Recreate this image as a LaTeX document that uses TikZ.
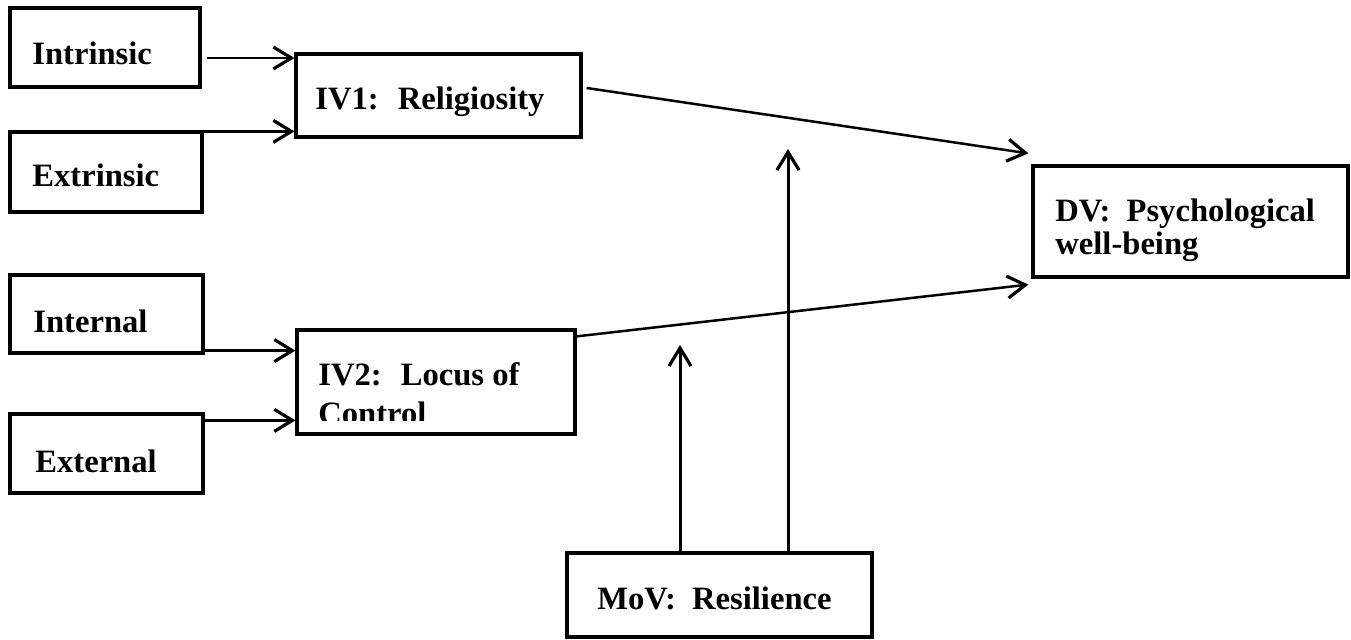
\documentclass[tikz,border=0pt]{standalone}
\usepackage{fontspec}
\setmainfont{Liberation Serif}
\usetikzlibrary{arrows.meta,calc}
\begin{document}
\begin{tikzpicture}[x=0.5pt,y=-0.5pt,
  box/.style={draw=black,line width=1.6pt,rectangle,inner sep=0pt,fill=none},
  txt/.style={inner sep=0pt,anchor=base west,font=\bfseries\fontsize{16.3}{19}\selectfont},
  arr/.style={line width=1.25pt,-{Straight Barb[length=9pt,width=11pt,line width=1.6pt]}}]
\useasboundingbox (0,0) rectangle (1351,640);
\fill[white] (0,0) rectangle (1351,640);
% boxes
\node[box,minimum width=95pt,minimum height=39.5pt] (intr) at (105,47.5) {};
\node[box,minimum width=96pt,minimum height=40pt] (extr) at (106,172) {};
\node[box,minimum width=96.5pt,minimum height=39pt] (intl) at (106.5,314) {};
\node[box,minimum width=96.5pt,minimum height=39.5pt] (extl) at (106.5,453.5) {};
\node[box,minimum width=142.5pt,minimum height=41.5pt] (iv1) at (438.5,95.5) {};
\node[box,minimum width=139pt,minimum height=52pt] (iv2) at (436,382) {};
\node[box,minimum width=157.5pt,minimum height=55.5pt] (dv) at (1190.5,221.5) {};
\node[box,minimum width=152.5pt,minimum height=42pt] (mov) at (719.5,595) {};
% texts
\node[txt] (tintr) at (32,65) {Intrinsic};
\node[txt] (textr) at (32,187) {Extrinsic};
\node[txt] (tintl) at (33,333) {Internal};
\node[txt] (textl) at (35,473) {External};
\node[txt] (tiv1) at (315,110) {IV1:~ Religiosity};
\node[txt] (tiv2a) at (318,386) {IV2:~ Locus of};
\begin{scope}
\clip (300,350) rectangle (570,421);
\node[txt] (tiv2b) at (318,425) {Control};
\end{scope}
\node[txt] (tdva) at (1055,222) {DV:~ Psychological};
\node[txt] (tdvb) at (1055,255) {well-being};
\node[txt] (tmov) at (597,610) {MoV:~ Resilience};
% connectors
\coordinate (s1) at ([xshift=2.5pt,yshift=-5.25pt]intr.east);
\draw[arr] (s1) -- (s1 -| iv1.west);
\coordinate (s2) at ([yshift=-0.5pt]extr.north east);
\draw[arr] (s2) -- (s2 -| iv1.west);
\coordinate (s3) at ([yshift=2pt]intl.south east);
\draw[arr,line width=1.5pt] (s3) -- (s3 -| iv2.west);
\coordinate (s4) at ([yshift=-4pt]extl.north east);
\draw[arr,line width=1.5pt] (s4) -- (s4 -| iv2.west);
\draw[arr] ([xshift=2pt,yshift=3.75pt]iv1.east) -- ([xshift=-1.5pt,yshift=5.5pt]dv.north west);
\draw[arr] ([yshift=-4pt]iv2.north east) -- ([xshift=-1.5pt,yshift=-3pt]dv.south west);
\coordinate (m1) at (680,345);
\coordinate (m2) at (788,149);
\draw[arr,line width=1.5pt] (mov.north -| m1) -- (m1);
\draw[arr,line width=1.5pt] (mov.north -| m2) -- (m2);
\end{tikzpicture}
\end{document}
